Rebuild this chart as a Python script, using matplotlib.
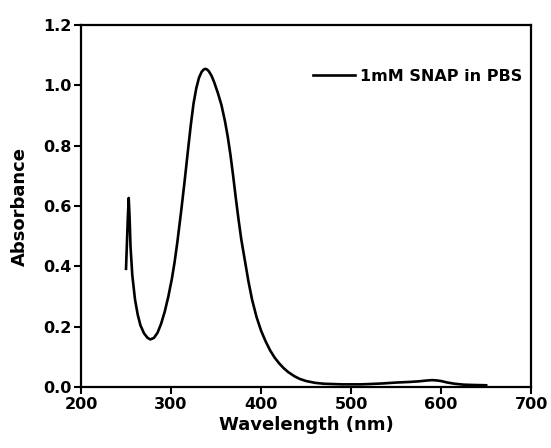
import matplotlib
matplotlib.use("Agg")
import matplotlib.pyplot as plt

# UV-vis spectrum
wavelength = [250, 252, 253, 254, 255, 257, 260, 263, 266, 270, 274, 277, 281, 285,
              289, 293, 297, 301, 304, 307, 311, 315, 319, 322, 325, 328, 331, 334,
              336, 338, 340, 342, 345, 348, 352, 356, 360, 363, 366, 369, 372, 375,
              378, 382, 386, 390, 395, 400, 405, 410, 415, 420, 425, 430, 437, 443, 450, 460,
              470, 480, 490, 500, 510, 520, 535, 550, 565, 575, 585, 590, 595, 600,
              607, 615, 625, 635, 650]
absorbance = [0.392, 0.56, 0.627, 0.56, 0.466, 0.37, 0.29, 0.24, 0.205, 0.178, 0.163, 0.158, 0.163, 0.18,
              0.21, 0.25, 0.3, 0.36, 0.415, 0.48, 0.577, 0.68, 0.79, 0.87, 0.94, 0.99, 1.025, 1.045,
              1.052, 1.055, 1.053, 1.047, 1.032, 1.01, 0.975, 0.935, 0.88, 0.83, 0.77, 0.70, 0.625, 0.555,
              0.49, 0.42, 0.35, 0.29, 0.232, 0.187, 0.152, 0.122, 0.098, 0.079, 0.063, 0.05, 0.036, 0.027,
              0.02, 0.014, 0.011, 0.01, 0.009, 0.009, 0.009, 0.01, 0.012, 0.015, 0.017, 0.019, 0.022, 0.023,
              0.022, 0.02, 0.015, 0.011, 0.008, 0.007, 0.006]

xticks = [200, 300, 400, 500, 600, 700]
yticks = [0.0, 0.2, 0.4, 0.6, 0.8, 1.0, 1.2]

plt.rcParams['font.family'] = ['DejaVu Sans']
plt.rcParams['font.weight'] = 'bold'

fig = plt.figure(figsize=(5.51, 4.48), dpi=100)
ax = fig.add_axes([0.147, 0.136, 0.817, 0.808])

ax.plot(wavelength, absorbance, color='black', lw=1.9, label='1mM SNAP in PBS')

ax.set_xlim(200, 700)
ax.set_ylim(0, 1.2)
ax.set_xticks(xticks)
ax.set_yticks(yticks)
ax.set_yticklabels([f'{v:.1f}' for v in yticks])
ax.tick_params(direction='out', length=5, width=1.5, labelsize=11.5, pad=2)
for lab in ax.get_xticklabels() + ax.get_yticklabels():
    lab.set_fontweight('bold')
for s in ax.spines.values():
    s.set_linewidth(1.6)

ax.set_xlabel('Wavelength (nm)', fontsize=13, fontweight='bold', labelpad=3)
ax.set_ylabel('Absorbance', fontsize=13, fontweight='bold', labelpad=10)

ax.legend(loc='center left', bbox_to_anchor=(0.516, 0.859), frameon=False,
          borderpad=0, borderaxespad=0, handlelength=2.6, handletextpad=0.3,
          prop={'size': 11.5, 'weight': 'bold'})

fig.savefig('out.png', dpi=100)
